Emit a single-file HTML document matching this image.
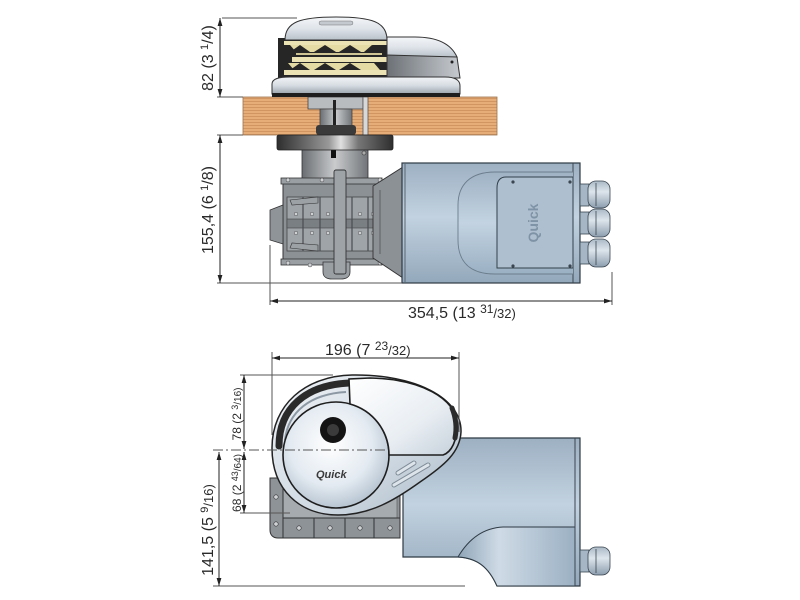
<!DOCTYPE html>
<html><head><meta charset="utf-8"><style>
html,body{margin:0;padding:0;background:#fff;}
svg{display:block;}
text{font-family:"Liberation Sans",sans-serif;fill:#2a2a2a;}
</style></head><body>
<svg width="800" height="600" viewBox="0 0 800 600" xmlns="http://www.w3.org/2000/svg">
<defs>
<marker id="ar" viewBox="0 0 10 6" refX="10" refY="3" markerWidth="8" markerHeight="5" orient="auto-start-reverse" markerUnits="userSpaceOnUse"><path d="M0,0 L10,3 L0,6 Z" fill="#222"/></marker>
<pattern id="wood" width="20" height="3" patternUnits="userSpaceOnUse"><rect width="20" height="3" fill="#e6ad78"/><rect y="2" width="20" height="1" fill="#d09560"/></pattern>
<linearGradient id="dome" x1="0" y1="0" x2="0" y2="1"><stop offset="0" stop-color="#f4f6f8"/><stop offset="0.5" stop-color="#dfe4ea"/><stop offset="1" stop-color="#b9c1c9"/></linearGradient>
<linearGradient id="plate" x1="0" y1="0" x2="0" y2="1"><stop offset="0" stop-color="#f2f4f6"/><stop offset="0.5" stop-color="#d6dce2"/><stop offset="1" stop-color="#9aa3ac"/></linearGradient>
<linearGradient id="side" x1="0" y1="0" x2="1" y2="0"><stop offset="0" stop-color="#6c7176"/><stop offset="0.5" stop-color="#9a9fa4"/><stop offset="1" stop-color="#c6cacf"/></linearGradient>
<linearGradient id="flange" x1="0" y1="0" x2="1" y2="0"><stop offset="0" stop-color="#2e2e2e"/><stop offset="0.45" stop-color="#9a9a9a"/><stop offset="0.55" stop-color="#e0e0e0"/><stop offset="0.7" stop-color="#777"/><stop offset="1" stop-color="#2e2e2e"/></linearGradient>
<linearGradient id="neck" x1="0" y1="0" x2="1" y2="0"><stop offset="0" stop-color="#6a6e72"/><stop offset="0.5" stop-color="#c9cbcd"/><stop offset="1" stop-color="#707478"/></linearGradient>
<linearGradient id="motor" x1="0" y1="0" x2="0" y2="1"><stop offset="0" stop-color="#9db0c2"/><stop offset="0.45" stop-color="#c2d2e0"/><stop offset="1" stop-color="#93a8bb"/></linearGradient>
<linearGradient id="motor2" x1="0" y1="0" x2="0" y2="1"><stop offset="0" stop-color="#9fb2c4"/><stop offset="0.5" stop-color="#c3d3e1"/><stop offset="1" stop-color="#9ab0c3"/></linearGradient>
<linearGradient id="curve" x1="0" y1="0" x2="1" y2="0"><stop offset="0" stop-color="#8fa5b8"/><stop offset="0.35" stop-color="#cfdbe6"/><stop offset="1" stop-color="#9bb0c3"/></linearGradient>
<radialGradient id="drum" cx="0.45" cy="0.4" r="0.65"><stop offset="0" stop-color="#ffffff"/><stop offset="0.6" stop-color="#e3eaf1"/><stop offset="1" stop-color="#aebdcb"/></radialGradient>
<linearGradient id="body" x1="0" y1="0" x2="1" y2="1"><stop offset="0" stop-color="#eef2f6"/><stop offset="0.6" stop-color="#cfd9e2"/><stop offset="1" stop-color="#a9b8c6"/></linearGradient>
<linearGradient id="cover" x1="0" y1="0" x2="1" y2="1"><stop offset="0" stop-color="#ffffff"/><stop offset="0.6" stop-color="#e9eef3"/><stop offset="1" stop-color="#c6d1db"/></linearGradient>
<linearGradient id="gland" x1="0" y1="0" x2="0" y2="1"><stop offset="0" stop-color="#aab9c6"/><stop offset="0.4" stop-color="#dde5ec"/><stop offset="1" stop-color="#8d9eae"/></linearGradient>
</defs>

<!-- ============ TOP VIEW ============ -->
<rect x="243" y="97" width="254" height="38" fill="url(#wood)" stroke="#9a7450" stroke-width="0.8"/>
<rect x="308" y="97" width="55" height="12" fill="#b9bcbf" stroke="#444" stroke-width="0.8"/>
<rect x="320" y="109" width="32" height="18" fill="url(#neck)" stroke="#444" stroke-width="0.8"/>
<rect x="333" y="100" width="3" height="27" fill="#222"/>
<rect x="316" y="125" width="40" height="10" rx="3" fill="#3a3a3a"/>
<rect x="363" y="97" width="5" height="38" fill="#d8d8d8" stroke="#555" stroke-width="0.8"/>

<rect x="278" y="38" width="110" height="40" fill="#262626"/>
<rect x="284" y="41" width="103" height="4" fill="#ece3b4"/>
<polygon points="290,45 372,45 378,52 296,52" fill="#e4daa4"/>
<polygon points="300,45 310,52 290,52" fill="#262626"/>
<polygon points="325,45 336,52 314,52" fill="#262626"/>
<polygon points="350,45 361,52 339,52" fill="#262626"/>
<polygon points="372,45 380,52 364,52" fill="#262626"/>
<rect x="296" y="53" width="86" height="2" fill="#cfc493"/>
<rect x="292" y="57" width="95" height="5" fill="#ece3b4"/>
<polygon points="288,63 374,63 380,70 294,70" fill="#e4daa4"/>
<polygon points="300,63 310,70 290,70" fill="#262626"/>
<polygon points="325,63 336,70 314,70" fill="#262626"/>
<polygon points="350,63 361,70 339,70" fill="#262626"/>
<rect x="284" y="70" width="103" height="5" fill="#ece3b4"/>
<path d="M285,40 C285,22 300,17 336,17 C372,17 387,22 387,40 Z" fill="url(#dome)" stroke="#333" stroke-width="1"/>
<rect x="319" y="21" width="34" height="4" rx="2" fill="#c3c9cf" stroke="#777" stroke-width="0.5"/>
<path d="M387,37 L415,37 C440,37 452,46 457,57 L387,57 Z" fill="url(#dome)" stroke="#333" stroke-width="1"/>
<path d="M387,55 L457,57 L460,78 L387,78 Z" fill="url(#side)" stroke="#333" stroke-width="1"/>
<circle cx="452" cy="62" r="1.5" fill="#222"/>
<path d="M272,94 L272,84 C272,79 278,77 290,77 L445,77 C455,77 460,80 460,86 L460,94 Z" fill="url(#plate)" stroke="#333" stroke-width="1"/>
<rect x="272" y="93" width="188" height="4" fill="#1e1e1e"/>

<rect x="302" y="149" width="66" height="34" fill="url(#neck)" stroke="#333" stroke-width="0.8"/>
<rect x="331" y="150" width="5" height="8" fill="#111"/>
<circle cx="364" cy="153" r="2" fill="#aaa" stroke="#333" stroke-width="0.6"/>
<rect x="277" y="135" width="116" height="15" rx="2" fill="url(#flange)" stroke="#222" stroke-width="0.8"/>

<rect x="283" y="181" width="97" height="81" fill="#8c9196" stroke="#333" stroke-width="1"/>
<rect x="281" y="178" width="101" height="6" fill="#9a9fa4" stroke="#333" stroke-width="0.8"/>
<rect x="281" y="259" width="101" height="6" fill="#9a9fa4" stroke="#333" stroke-width="0.8"/>
<rect x="287" y="197" width="90" height="54" fill="#9fa4a9" stroke="#444" stroke-width="0.8"/>
<rect x="287" y="219" width="90" height="9" fill="#7a7f84" stroke="#444" stroke-width="0.6"/>
<g stroke="#4a4e52" stroke-width="1.2">
<line x1="303" y1="197" x2="303" y2="251"/><line x1="320" y1="197" x2="320" y2="251"/><line x1="352" y1="197" x2="352" y2="251"/><line x1="368" y1="197" x2="368" y2="251"/>
</g>
<g fill="#cfd2d5" stroke="#444" stroke-width="0.5">
<circle cx="296" cy="214" r="1.8"/><circle cx="312" cy="214" r="1.8"/><circle cx="328" cy="214" r="1.8"/><circle cx="360" cy="214" r="1.8"/><circle cx="373" cy="214" r="1.8"/>
<circle cx="296" cy="233" r="1.8"/><circle cx="312" cy="233" r="1.8"/><circle cx="328" cy="233" r="1.8"/><circle cx="360" cy="233" r="1.8"/><circle cx="373" cy="233" r="1.8"/>
<circle cx="288" cy="180" r="2"/><circle cx="322" cy="180" r="2"/><circle cx="380" cy="180" r="2"/>
<circle cx="288" cy="263" r="2"/><circle cx="310" cy="265" r="2"/><circle cx="380" cy="263" r="2"/>
</g>
<path d="M270,240 L270,210 L283,205 L283,244 Z" fill="#8f9499" stroke="#333" stroke-width="0.8"/>
<path d="M290,200 L318,197 L318,203 L292,205 Z" fill="#9ca1a6" stroke="#333" stroke-width="0.6"/>
<path d="M290,248 L318,251 L318,245 L292,243 Z" fill="#9ca1a6" stroke="#333" stroke-width="0.6"/>
<path d="M323,262 L350,262 L350,272 C350,277 346,279 341,279 L332,279 C327,279 323,277 323,272 Z" fill="#9a9fa4" stroke="#333" stroke-width="0.8"/>
<rect x="334" y="170" width="12" height="104" rx="2" fill="#9ea3a8" stroke="#333" stroke-width="0.9"/>
<polygon points="373,186 403,167 403,278 373,258" fill="#8c9196" stroke="#333" stroke-width="0.9"/>
<line x1="380" y1="190" x2="380" y2="254" stroke="#555" stroke-width="0.8"/>

<rect x="402" y="163" width="178" height="120" fill="url(#motor)" stroke="#2e3a44" stroke-width="1.2"/>
<line x1="573" y1="163" x2="573" y2="283" stroke="#3c4650" stroke-width="1"/>
<line x1="405" y1="163" x2="405" y2="283" stroke="#5a6670" stroke-width="1"/>
<path d="M573,172 L495,172 C470,172 458,185 458,205 L458,240 C458,262 470,274 495,274 L573,274" fill="url(#motor2)" stroke="#6b7d8d" stroke-width="0.9"/>
<path d="M573,177 L506,177 C500,177 497,181 497,188 L497,268 L573,268 Z" fill="#aebfcf" stroke="#33404b" stroke-width="1"/>
<g fill="#3a4650"><circle cx="513" cy="182" r="1.6"/><circle cx="570" cy="182" r="1.6"/><circle cx="513" cy="266" r="1.6"/><circle cx="570" cy="266" r="1.6"/></g>
<text x="538" y="223" font-size="14" font-weight="bold" text-anchor="middle" transform="rotate(-90 538 223)" style="fill:#7f93a6">Quick</text>
<g stroke="#3a4650" stroke-width="0.8">
<rect x="580" y="184" width="9" height="22" fill="#a6b6c4"/><rect x="588" y="181" width="22" height="27" rx="8" fill="url(#gland)"/>
<rect x="580" y="212" width="9" height="22" fill="#a6b6c4"/><rect x="588" y="209" width="22" height="28" rx="8" fill="url(#gland)"/>
<rect x="580" y="242" width="9" height="22" fill="#a6b6c4"/><rect x="588" y="239" width="22" height="28" rx="8" fill="url(#gland)"/>
<line x1="596" y1="183" x2="596" y2="206"/><line x1="596" y1="211" x2="596" y2="235"/><line x1="596" y1="241" x2="596" y2="265"/>
</g>

<g stroke="#555" stroke-width="1" fill="none">
<line x1="222" y1="18" x2="297" y2="18"/>
<line x1="217" y1="97" x2="243" y2="97"/>
<line x1="217" y1="135" x2="243" y2="135"/>
<line x1="217" y1="283" x2="402" y2="283"/>
<line x1="270" y1="245" x2="270" y2="305"/>
<line x1="612" y1="272" x2="612" y2="305"/>
</g>
<g stroke="#222" stroke-width="1" marker-start="url(#ar)" marker-end="url(#ar)">
<line x1="220" y1="18" x2="220" y2="97"/>
<line x1="220" y1="135" x2="220" y2="283"/>
<line x1="270" y1="301" x2="612" y2="301"/>
</g>
<text x="213" y="58" font-size="16" text-anchor="middle" transform="rotate(-90 213 58)">82 (3 <tspan font-size="11" dy="-5">1</tspan><tspan dy="5">/4)</tspan></text>
<text x="213" y="210" font-size="16" text-anchor="middle" transform="rotate(-90 213 210)">155,4 (6 <tspan font-size="11" dy="-5">1</tspan><tspan dy="5">/8)</tspan></text>
<text x="408" y="318" font-size="16">354,5 (13 <tspan font-size="12" dy="-5">31</tspan><tspan font-size="13" dy="5">/32)</tspan></text>

<!-- ============ FRONT VIEW ============ -->
<path d="M403,438 L580,438 L580,586 L497,586 C489,568 478,558 458,557 L403,557 Z" fill="url(#motor)" stroke="#2e3a44" stroke-width="1.2"/>
<path d="M458,557 C468,540 482,528 503,527 L575,527 L575,586 L497,586 C489,568 478,558 458,557 Z" fill="url(#curve)" stroke="#2e3a44" stroke-width="1"/>
<line x1="575" y1="438" x2="575" y2="586" stroke="#3c4650" stroke-width="1"/>
<g stroke="#3a4650" stroke-width="0.8">
<rect x="580" y="550" width="9" height="22" fill="#a6b6c4"/><rect x="588" y="547" width="22" height="28" rx="8" fill="url(#gland)"/>
<line x1="596" y1="549" x2="596" y2="573"/>
</g>
<path d="M270,478 L400,478 L400,538 L278,538 C273,538 270,535 270,530 Z" fill="#8e9398" stroke="#333" stroke-width="1"/>
<rect x="283" y="483" width="114" height="35" fill="#a6abb0" stroke="#555" stroke-width="0.6"/>
<line x1="283" y1="518" x2="400" y2="518" stroke="#333" stroke-width="1"/>
<g stroke="#333" stroke-width="1"><line x1="314" y1="518" x2="314" y2="538"/><line x1="345" y1="518" x2="345" y2="538"/><line x1="374" y1="518" x2="374" y2="538"/><line x1="283" y1="478" x2="283" y2="538"/></g>
<g fill="#cfd2d5" stroke="#333" stroke-width="0.6">
<circle cx="276" cy="497" r="2.2"/><circle cx="276" cy="524" r="2.2"/><circle cx="299" cy="528" r="2.2"/><circle cx="330" cy="528" r="2.2"/><circle cx="360" cy="528" r="2.2"/><circle cx="390" cy="528" r="2.2"/>
</g>
<path d="M272,448 C272,405 305,376 352,375 C415,374 462,398 461,432 C460,452 445,465 420,482 C395,500 370,515 338,515 C300,515 272,490 272,448 Z" fill="url(#body)" stroke="#222" stroke-width="1.5"/>
<path d="M279,446 C279,408 306,385 349,383" fill="none" stroke="#2a2a2a" stroke-width="7" stroke-linecap="round"/>
<path d="M285,440 C288,412 310,394 346,392" fill="none" stroke="#8c98a4" stroke-width="2"/>
<circle cx="336" cy="455" r="53" fill="url(#drum)" stroke="#1e1e1e" stroke-width="1.6"/>
<path d="M349,379 L350,404 A53,53 0 0 1 389,455 L443,455 C452,452 457,440 457,425 C457,398 420,379 370,378 Z" fill="url(#cover)" stroke="#1e1e1e" stroke-width="1.6"/>
<path d="M452,408 C456,418 457,428 455,438" fill="none" stroke="#2a2a2a" stroke-width="5" stroke-linecap="round"/>
<circle cx="333" cy="430" r="13" fill="#141414"/>
<circle cx="333" cy="430" r="6" fill="#3b3b3b"/>
<g stroke="#7f8c98" stroke-width="5" stroke-linecap="round" fill="none">
<line x1="398" y1="473" x2="414" y2="463"/><line x1="394" y1="485" x2="428" y2="465"/>
</g>
<g stroke="#dde4ea" stroke-width="3" stroke-linecap="round" fill="none">
<line x1="398" y1="473" x2="414" y2="463"/><line x1="394" y1="485" x2="428" y2="465"/>
</g>
<text x="316" y="478" font-size="11" font-weight="bold" font-style="italic" style="fill:#3a3a3a">Quick</text>

<g stroke="#555" stroke-width="1" fill="none">
<line x1="272" y1="352" x2="272" y2="435"/>
<line x1="459" y1="352" x2="459" y2="432"/>
<line x1="240" y1="375" x2="333" y2="375"/>
<line x1="240" y1="513" x2="290" y2="513"/>
<line x1="213" y1="586" x2="465" y2="586"/>
<line x1="213" y1="450" x2="388" y2="450" stroke-dasharray="10,3,2,3"/>
</g>
<g stroke="#222" stroke-width="1" marker-start="url(#ar)" marker-end="url(#ar)">
<line x1="272" y1="358" x2="459" y2="358"/>
<line x1="244" y1="375" x2="244" y2="449"/>
<line x1="244" y1="452" x2="244" y2="513"/>
<line x1="219" y1="452" x2="219" y2="586"/>
</g>
<text x="325" y="355" font-size="16">196 (7 <tspan font-size="12" dy="-5">23</tspan><tspan font-size="13" dy="5">/32)</tspan></text>
<text x="241" y="414" font-size="12" text-anchor="middle" transform="rotate(-90 241 414)">78 (2 <tspan font-size="9" dy="-3">3</tspan><tspan font-size="10" dy="3">/16)</tspan></text>
<text x="241" y="483" font-size="12" text-anchor="middle" transform="rotate(-90 241 483)">68 (2 <tspan font-size="9" dy="-3">43</tspan><tspan font-size="10" dy="3">/64)</tspan></text>
<text x="213" y="530" font-size="16" text-anchor="middle" transform="rotate(-90 213 530)">141,5 (5 <tspan font-size="11" dy="-5">9</tspan><tspan font-size="13" dy="5">/16)</tspan></text>
</svg>
</body></html>
